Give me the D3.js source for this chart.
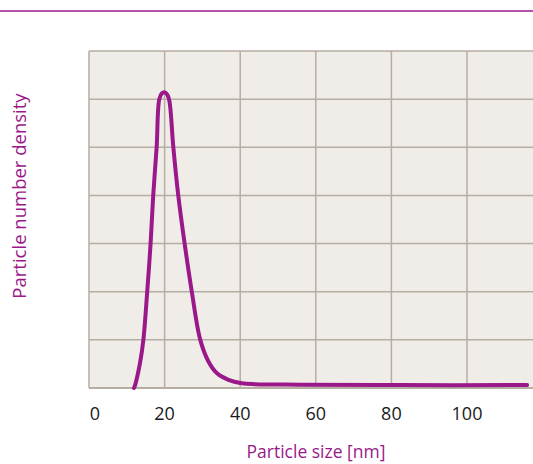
<!DOCTYPE html>
<html>
<head>
<meta charset="utf-8">
<script src="https://cdn.jsdelivr.net/npm/d3@7"></script>
<style>
  body { margin: 0; background: #fff; }
  svg { display: block; font-family: "Open Sans", "Noto Sans", sans-serif; }
</style>
</head>
<body>
<svg id="chart" width="533" height="464"></svg>
<script>
// particle size [nm] and number density (grid units)
const sizes   = [11.9, 12.2, 13.5, 14.4, 15.4, 16.3, 17.0, 17.9, 18.6, 19.3, 20.1, 20.8, 21.3, 22.3, 23.6, 25.3, 27.2, 29.4, 31.6, 33.8, 36.9, 40.4, 43.9, 55.8, 82.3, 115.9];
const density = [0, 0.06, 0.52, 1.01, 2.0, 3.01, 4.01, 5.01, 6.0, 6.12, 6.14, 6.08, 5.95, 5.01, 4.01, 3.0, 2.0, 1.01, 0.55, 0.31, 0.17, 0.10, 0.08, 0.07, 0.06, 0.06];
const xTicks = [0, 20, 40, 60, 80, 100, 120];
const yTicks = [0, 1, 2, 3, 4, 5, 6, 7];

const purple = "#9a1889";
const gridCol = "#b6ada3";

const svg = d3.select("#chart");
const plotLeft = 89, plotTop = 51, plotBottom = 388;

const x = d3.scaleLinear().domain([0, 120]).range([plotLeft, plotLeft + 453.6]);
const y = d3.scaleLinear().domain([0, 7]).range([plotBottom, plotTop]);

// rule across the top
svg.append("line")
    .attr("x1", 0).attr("x2", 533)
    .attr("y1", 11).attr("y2", 11)
    .attr("stroke", purple).attr("stroke-width", 1.5);

// plot background
svg.append("rect")
    .attr("x", plotLeft).attr("y", plotTop)
    .attr("width", 533 - plotLeft).attr("height", plotBottom - plotTop)
    .attr("fill", "#f0ede8");

// grid
svg.append("g").selectAll("line")
    .data(xTicks)
    .enter().append("line")
        .attr("x1", d => x(d)).attr("x2", d => x(d))
        .attr("y1", plotTop).attr("y2", plotBottom)
        .attr("stroke", gridCol).attr("stroke-width", 1.5);

svg.append("g").selectAll("line")
    .data(yTicks)
    .enter().append("line")
        .attr("x1", plotLeft).attr("x2", 533)
        .attr("y1", d => y(d)).attr("y2", d => y(d))
        .attr("stroke", gridCol).attr("stroke-width", d => d === 0 ? 2 : 1.5);

// x tick labels
svg.append("g").selectAll("text")
    .data(xTicks.filter(d => d <= 100))
    .enter().append("text")
        .attr("x", d => x(d) + (d === 0 ? 6 : 0))
        .attr("y", 420)
        .attr("text-anchor", "middle")
        .attr("font-size", 18)
        .attr("fill", "#1a1a1a")
        .text(d => d);

// curve
const line = d3.line()
    .x((d, i) => x(sizes[i]))
    .y(d => y(d))
    .curve(d3.curveCatmullRom.alpha(0.5));

svg.append("path")
    .datum(density)
    .attr("d", line)
    .attr("fill", "none")
    .attr("stroke", purple)
    .attr("stroke-width", 4)
    .attr("stroke-linecap", "round")
    .attr("stroke-linejoin", "round");

// axis titles
svg.append("text")
    .attr("x", 316).attr("y", 458)
    .attr("text-anchor", "middle")
    .attr("font-size", 17.5)
    .attr("fill", purple)
    .text("Particle size [nm]");

svg.append("text")
    .attr("transform", "translate(26,196) rotate(-90)")
    .attr("text-anchor", "middle")
    .attr("font-size", 18.5)
    .attr("fill", purple)
    .text("Particle number density");
</script>
</body>
</html>
